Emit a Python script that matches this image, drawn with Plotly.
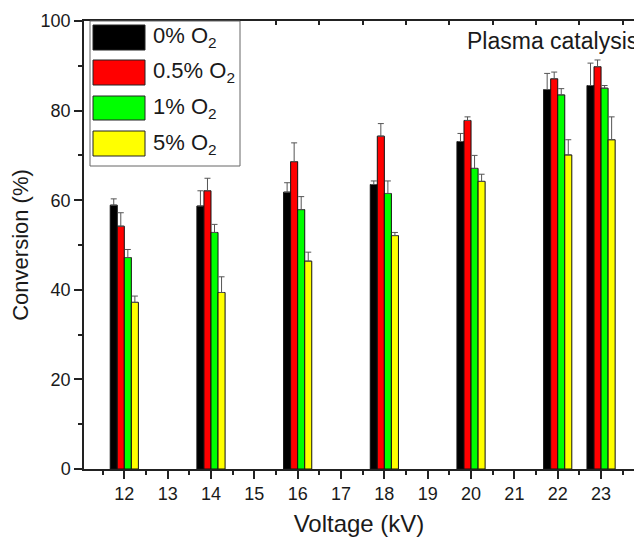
import plotly.graph_objects as go

# ---- data ----
voltage = [12, 14, 16, 18, 20, 22, 23]
series_names = ["0% O<sub>2</sub>", "0.5% O<sub>2</sub>", "1% O<sub>2</sub>", "5% O<sub>2</sub>"]
conv_0 = [58.9, 58.7, 61.8, 63.5, 73.1, 84.7, 85.6]
conv_05 = [54.2, 62.1, 68.6, 74.3, 77.8, 87.1, 89.8]
conv_1 = [47.2, 52.8, 57.9, 61.5, 67.1, 83.5, 85.0]
conv_5 = [37.2, 39.4, 46.4, 52.1, 64.2, 70.1, 73.5]
err_0 = [1.4, 3.4, 2.1, 0.8, 1.8, 3.6, 5.0]
err_05 = [3.0, 2.8, 4.2, 2.8, 0.8, 1.5, 1.5]
err_1 = [1.8, 1.8, 2.9, 2.8, 2.9, 1.4, 0.6]
err_5 = [1.4, 3.5, 2.0, 0.7, 1.6, 3.4, 5.1]
x_tick_vals = list(range(12, 24))
y_tick_vals = [0, 20, 40, 60, 80, 100]

colors = ["#000000", "#ff0000", "#00ff00", "#ffff00"]
values = [conv_0, conv_05, conv_1, conv_5]
errors = [err_0, err_05, err_1, err_5]

W, H = 634, 539
ML, MR, MT, MB = 84, 0, 21, 70
PW, PH = W - ML - MR, H - MT - MB
FONT = "Liberation Sans, Arial, sans-serif"
TXT = "#1a1a1a"


def px_x(px):
    return (px - ML) / PW


def px_y(py):
    return (H - MB - py) / PH


fig = go.Figure()
for name, vals, errs, col in zip(series_names, values, errors, colors):
    fig.add_trace(go.Bar(
        x=voltage, y=vals, name=name, showlegend=False,
        marker=dict(color=col, line=dict(color="#111111", width=1)),
        error_y=dict(type="data", symmetric=False, array=errs,
                     arrayminus=[0] * len(errs), color="#555555",
                     thickness=1, width=3),
    ))

# invisible trace to hold the top tick axis
fig.add_trace(go.Scatter(x=[12], y=[0], xaxis="x2", mode="markers",
                         marker=dict(opacity=0), showlegend=False,
                         hoverinfo="skip"))

xr = [11.07, 23.76]
fig.update_layout(
    width=W, height=H,
    margin=dict(l=ML, r=MR, t=MT, b=MB, pad=0),
    paper_bgcolor="white", plot_bgcolor="white",
    barmode="group", bargap=0.35, bargroupgap=0,
    font=dict(family=FONT, color=TXT),
    xaxis=dict(
        range=xr, tickmode="array", tickvals=x_tick_vals,
        ticks="outside", ticklen=8, tickwidth=1.5, tickcolor="#222",
        minor=dict(tickmode="array", tickvals=[v + 0.5 for v in range(11, 24)],
                   ticks="outside", ticklen=4, tickwidth=1.5, tickcolor="#222"),
        showline=True, linecolor="#222", linewidth=1.5, mirror=True,
        showgrid=False, zeroline=False,
        tickfont=dict(size=18, color=TXT),
        title=dict(text="Voltage (kV)", font=dict(size=24, color=TXT), standoff=12),
    ),
    xaxis2=dict(
        range=xr, overlaying="x", side="top", anchor="y",
        tickmode="array", tickvals=[v + 0.5 for v in range(11, 24)],
        ticks="inside", ticklen=4, tickwidth=1.5, tickcolor="#222",
        showticklabels=False, showline=False, showgrid=False, zeroline=False,
    ),
    yaxis=dict(
        range=[0, 100], tickmode="array", tickvals=y_tick_vals,
        ticks="outside", ticklen=8, tickwidth=1.5, tickcolor="#222",
        minor=dict(tickmode="array", tickvals=[10, 30, 50, 70, 90],
                   ticks="outside", ticklen=4, tickwidth=1.5, tickcolor="#222"),
        showline=True, linecolor="#222", linewidth=1.5, mirror=False,
        showgrid=False, zeroline=False,
        tickfont=dict(size=18, color=TXT),
        title=dict(text="Conversion (%)", font=dict(size=22, color=TXT), standoff=6),
    ),
)

# custom legend (large swatches like the original)
shapes = [dict(type="rect", xref="paper", yref="paper",
               x0=px_x(90), x1=px_x(240), y0=px_y(166), y1=px_y(21),
               line=dict(color="#666666", width=1), fillcolor="white", layer="above")]
annotations = []
rows = [(25, 50), (60, 85), (96, 120), (131, 156)]
for (r0, r1), name, col in zip(rows, series_names, colors):
    shapes.append(dict(type="rect", xref="paper", yref="paper",
                       x0=px_x(93), x1=px_x(145), y0=px_y(r1), y1=px_y(r0),
                       fillcolor=col, line=dict(color="#222222", width=1), layer="above"))
    annotations.append(dict(xref="paper", yref="paper", x=px_x(151), y=px_y((r0 + r1) / 2),
                            text=name, showarrow=False, xanchor="left", yanchor="middle",
                            font=dict(size=22, family=FONT, color=TXT)))

annotations.append(dict(xref="paper", yref="paper", x=px_x(465), y=px_y(41),
                        text="Plasma catalysis", showarrow=False, xanchor="left",
                        yanchor="middle", font=dict(size=23, family=FONT, color=TXT)))

fig.update_layout(shapes=shapes, annotations=annotations)
fig.write_html(
    "out.html",
    config={"displayModeBar": False},
    post_script="document.body.style.margin='0';document.body.style.overflow='hidden';",
)
